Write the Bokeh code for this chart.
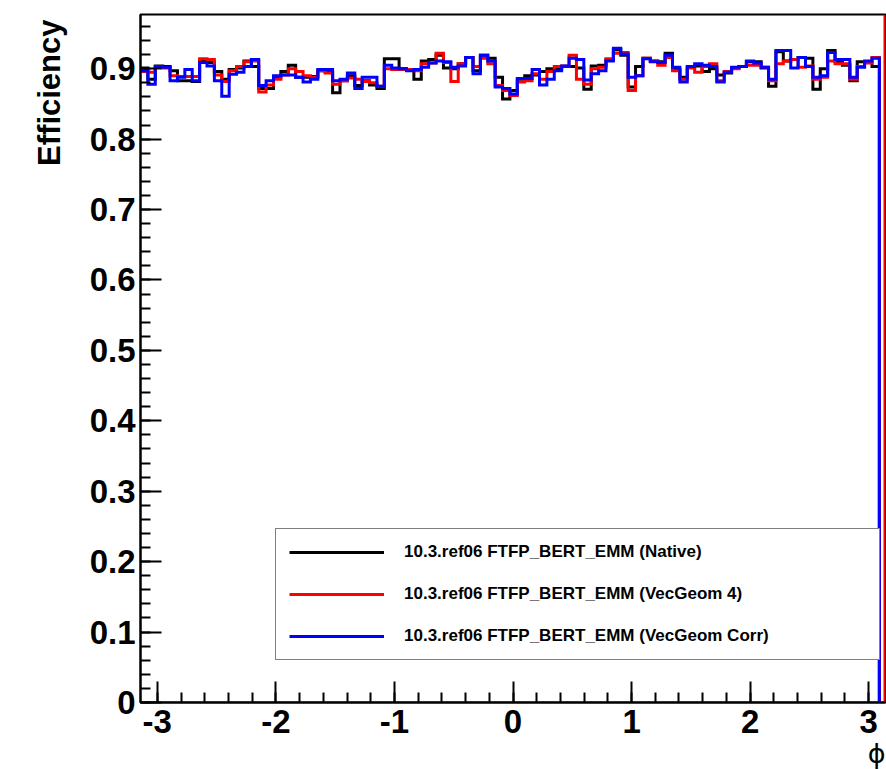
import numpy as np
from bokeh.plotting import figure
from bokeh.models import Range1d, SingleIntervalTicker, Legend, LegendItem, Title
from bokeh.embed import file_html
from bokeh.resources import INLINE

# ---------------- data ----------------
PHI_MIN = -3.1416
PHI_MAX = 3.1416
HIST_MAX = 3.09
N_BINS = 100
Y_MAX = 0.977
RED_EDGE = 3.133

LABELS = [
    "10.3.ref06 FTFP_BERT_EMM (Native)",
    "10.3.ref06 FTFP_BERT_EMM (VecGeom 4)",
    "10.3.ref06 FTFP_BERT_EMM (VecGeom Corr)",
]

native = [
    0.901, 0.885, 0.904, 0.903, 0.897, 0.883, 0.883, 0.882, 0.911, 0.909,
    0.896, 0.885, 0.899, 0.901, 0.911, 0.903, 0.872, 0.872, 0.888, 0.896,
    0.905, 0.888, 0.888, 0.889, 0.897, 0.895, 0.866, 0.883, 0.890, 0.876,
    0.883, 0.877, 0.872, 0.914, 0.914, 0.900, 0.899, 0.885, 0.911, 0.913,
    0.919, 0.901, 0.900, 0.907, 0.916, 0.897, 0.919, 0.915, 0.888, 0.857,
    0.869, 0.885, 0.890, 0.891, 0.896, 0.900, 0.900, 0.903, 0.903, 0.901,
    0.871, 0.904, 0.905, 0.913, 0.927, 0.919, 0.874, 0.903, 0.915, 0.911,
    0.910, 0.922, 0.899, 0.888, 0.902, 0.904, 0.896, 0.900, 0.891, 0.894,
    0.901, 0.903, 0.910, 0.910, 0.901, 0.875, 0.924, 0.911, 0.913, 0.916,
    0.915, 0.871, 0.900, 0.926, 0.910, 0.905, 0.883, 0.910, 0.909, 0.903,
]

vecgeom4 = [
    0.896, 0.895, 0.902, 0.901, 0.890, 0.889, 0.889, 0.889, 0.914, 0.913,
    0.891, 0.882, 0.897, 0.903, 0.910, 0.911, 0.867, 0.877, 0.885, 0.891,
    0.900, 0.896, 0.890, 0.888, 0.897, 0.894, 0.878, 0.883, 0.887, 0.885,
    0.882, 0.880, 0.875, 0.900, 0.899, 0.899, 0.899, 0.897, 0.907, 0.908,
    0.922, 0.909, 0.882, 0.907, 0.916, 0.903, 0.915, 0.907, 0.876, 0.869,
    0.862, 0.881, 0.883, 0.893, 0.885, 0.896, 0.903, 0.904, 0.919, 0.885,
    0.878, 0.900, 0.902, 0.914, 0.922, 0.923, 0.869, 0.890, 0.915, 0.911,
    0.905, 0.916, 0.897, 0.885, 0.901, 0.895, 0.903, 0.907, 0.883, 0.896,
    0.900, 0.903, 0.905, 0.905, 0.902, 0.883, 0.907, 0.911, 0.913, 0.902,
    0.904, 0.885, 0.888, 0.911, 0.907, 0.907, 0.885, 0.903, 0.908, 0.916,
]

vecgeom_corr = [
    0.897, 0.878, 0.903, 0.902, 0.883, 0.888, 0.899, 0.883, 0.909, 0.904,
    0.883, 0.861, 0.892, 0.895, 0.903, 0.913, 0.876, 0.883, 0.890, 0.891,
    0.891, 0.888, 0.881, 0.885, 0.899, 0.899, 0.883, 0.885, 0.894, 0.872,
    0.888, 0.888, 0.875, 0.905, 0.901, 0.900, 0.897, 0.899, 0.902, 0.908,
    0.911, 0.910, 0.902, 0.904, 0.916, 0.893, 0.919, 0.911, 0.874, 0.872,
    0.864, 0.886, 0.886, 0.899, 0.877, 0.885, 0.897, 0.904, 0.915, 0.913,
    0.884, 0.893, 0.897, 0.911, 0.929, 0.921, 0.888, 0.890, 0.914, 0.910,
    0.909, 0.919, 0.902, 0.881, 0.903, 0.907, 0.905, 0.903, 0.881, 0.895,
    0.902, 0.903, 0.911, 0.908, 0.902, 0.885, 0.926, 0.926, 0.901, 0.916,
    0.903, 0.888, 0.890, 0.923, 0.913, 0.913, 0.888, 0.902, 0.911, 0.915,
]

SERIES = [native, vecgeom4, vecgeom_corr]
COLORS = ["black", "red", "blue"]

FONT = "Liberation Sans"

# ---------------- figure ----------------
p = figure(
    width=886, height=769,
    output_backend="svg", toolbar_location=None,
    x_range=Range1d(PHI_MIN, PHI_MAX), y_range=Range1d(0, Y_MAX),
    min_border_left=140, min_border_right=1, min_border_top=14, min_border_bottom=67,
    background_fill_color="white", border_fill_color="white",
)
p.grid.visible = False
p.outline_line_color = "black"
p.outline_line_width = 2

edges = np.linspace(PHI_MIN, HIST_MAX, N_BINS + 1)


def step_xy(vals):
    xs = list(np.repeat(edges, 2)[1:-1]) + [edges[-1]]
    ys = list(np.repeat(np.asarray(vals, dtype=float), 2)) + [0.0]
    return xs, ys


renderers = []
for vals, col in zip(SERIES, COLORS):
    xs, ys = step_xy(vals)
    r = p.line(xs, ys, line_color=col, line_width=3, line_join="miter")
    renderers.append(r)

# red frame-like line along the bottom and at the right edge
p.line([PHI_MIN, RED_EDGE, RED_EDGE], [0, 0, Y_MAX], line_color="red", line_width=2)

# ---------------- axes ----------------
p.xaxis.ticker = SingleIntervalTicker(interval=1, num_minor_ticks=5)
p.yaxis.ticker = SingleIntervalTicker(interval=0.1, num_minor_ticks=5)
p.yaxis.major_label_overrides = {0: "0"}
p.xaxis.major_label_overrides = {-3: "-3", -2: "-2", -1: "-1"}

for ax in (p.xaxis[0], p.yaxis[0]):
    ax.axis_line_color = "black"
    ax.axis_line_width = 2
    ax.major_tick_line_color = "black"
    ax.minor_tick_line_color = "black"
    ax.major_tick_line_width = 2
    ax.minor_tick_line_width = 2
    ax.major_tick_out = 0
    ax.minor_tick_out = 0
    ax.major_tick_in = 21
    ax.minor_tick_in = 10
    ax.major_label_text_font = FONT
    ax.major_label_text_font_style = "bold"
    ax.major_label_text_font_size = "33px"
    ax.major_label_text_color = "black"

p.xaxis.major_label_standoff = 7
p.yaxis.major_label_standoff = 5

p.add_layout(Title(text="Efficiency", align="right", text_font=FONT,
                   text_font_style="bold", text_font_size="31px",
                   text_color="black", standoff=40, offset=5), "left")
p.add_layout(Title(text="ϕ", align="right", text_font="DejaVu Sans",
                   text_font_style="normal", text_font_size="27px",
                   text_color="black", standoff=0), "below")

# ---------------- legend ----------------
legend = Legend(
    items=[LegendItem(label=lab, renderers=[r]) for lab, r in zip(LABELS, renderers)],
    location=(135, 42),
    orientation="vertical",
    padding=13,
    spacing=22,
    glyph_width=95,
    glyph_height=20,
    label_height=20,
    label_width=462,
    label_standoff=20,
    margin=0,
    label_text_font=FONT,
    label_text_font_style="bold",
    label_text_font_size="17px",
    label_text_color="black",
    border_line_color="black",
    border_line_width=1,
    background_fill_color="white",
    background_fill_alpha=1.0,
)
p.add_layout(legend)

open("out.html", "w").write(file_html(p, INLINE))
